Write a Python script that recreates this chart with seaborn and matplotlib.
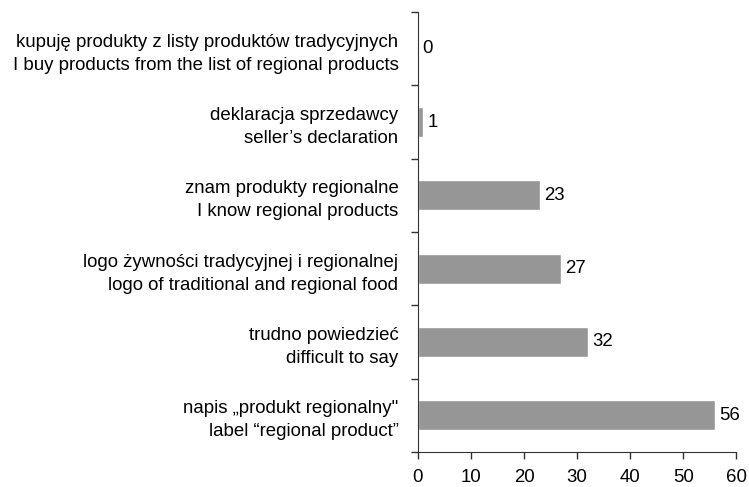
import matplotlib
matplotlib.use("Agg")
import matplotlib.pyplot as plt
import seaborn as sns
import numpy as np
import pandas as pd

# dane
labels = [
    "kupuję produkty z listy produktów tradycyjnych\nI buy products from the list of regional products",
    "deklaracja sprzedawcy\nseller’s declaration",
    "znam produkty regionalne\nI know regional products",
    "logo żywności tradycyjnej i regionalnej\nlogo of traditional and regional food",
    "trudno powiedzieć\ndifficult to say",
    "napis „produkt regionalny\"\nlabel “regional product”",
]
values = [0, 1, 23, 27, 32, 56]
xticks = [0, 10, 20, 30, 40, 50, 60]

df = pd.DataFrame({"label": labels, "value": values})

sns.set_style("white", {"xtick.bottom": True, "ytick.left": True})
plt.rcParams["font.family"] = ["Liberation Sans", "DejaVu Sans"]
plt.rcParams["text.color"] = "black"
plt.rcParams["xtick.color"] = "#333333"
plt.rcParams["ytick.color"] = "#333333"
plt.rcParams["xtick.labelcolor"] = "black"
plt.rcParams["ytick.labelcolor"] = "black"

fig = plt.figure(figsize=(7.49, 4.87), dpi=100)
ax = fig.add_axes([0.558, 0.072, 0.425, 0.903])

sns.barplot(data=df, x="value", y="label", orient="h", color="#969696",
            saturation=1, width=0.41, ax=ax)

for c in ax.containers:
    ax.bar_label(c, padding=3, fontsize=13.4, color="black")

ax.set_xlim(0, 60)
ax.set_ylim(len(labels) - 0.5, -0.5)
ax.set_xticks(xticks)
ax.set_xlabel("")
ax.set_ylabel("")

# etykiety bez kresek, kreski na granicach kategorii
ax.set_yticks(range(len(labels)))
ax.set_yticklabels(labels, fontsize=13.4, linespacing=1.45)
ax.tick_params(axis="y", which="major", length=0, pad=14)
ax.set_yticks(np.arange(-0.5, len(labels)), minor=True)
ax.tick_params(axis="y", which="minor", length=5, direction="out", width=1)
ax.tick_params(axis="x", length=5, direction="out", width=1, labelsize=13.4, pad=7)

sns.despine(ax=ax)
ax.spines["left"].set_color("#333333")
ax.spines["bottom"].set_color("#333333")

fig.savefig("out.png", dpi=100)
